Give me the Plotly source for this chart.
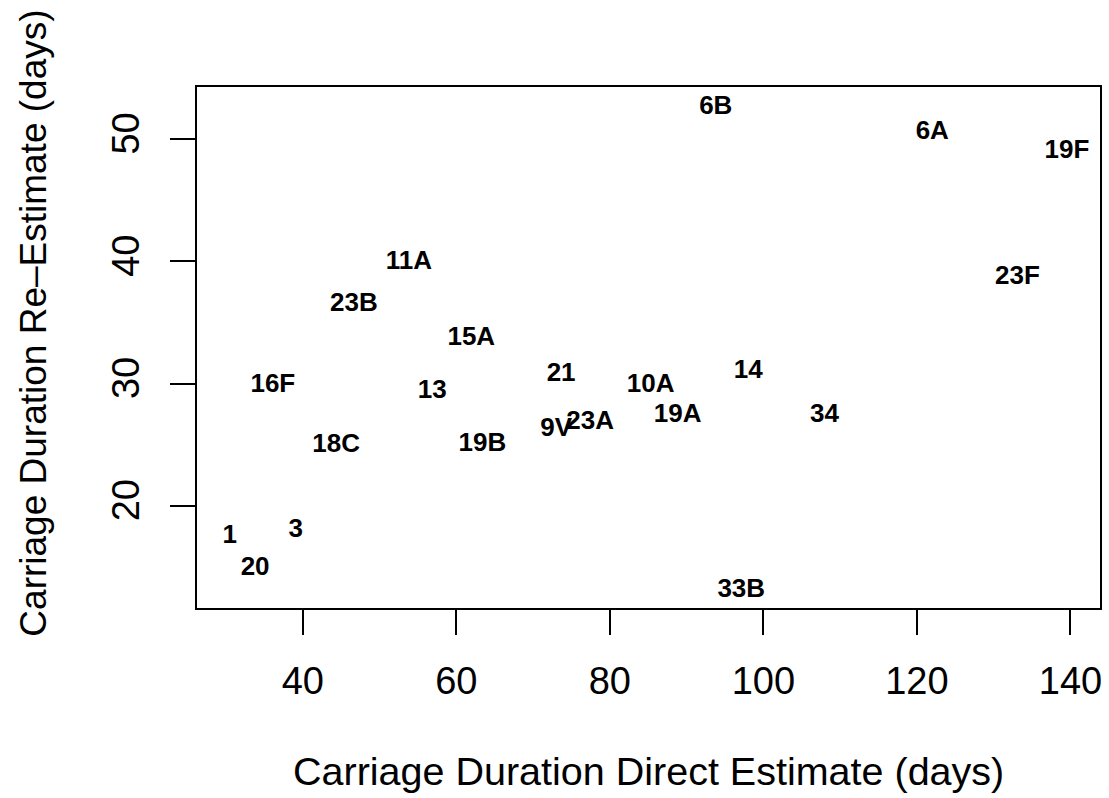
import plotly.graph_objects as go

serotypes = ["1", "20", "3", "16F", "18C", "23B", "11A", "13", "15A", "19B",
             "21", "9V", "23A", "10A", "19A", "14", "34", "6B", "6A", "19F",
             "23F", "33B"]
direct_est = [30.47, 33.79, 39.09, 36.1, 44.34, 46.65, 53.83, 56.86, 61.95, 63.4,
              73.65, 73.0, 77.43, 85.32, 88.83, 98.02, 107.96, 93.8, 122.0, 139.55,
              133.1, 97.12]
re_est = [17.53, 14.91, 18.01, 29.84, 24.91, 36.47, 39.93, 29.39, 33.73, 25.05,
          30.72, 26.28, 26.83, 29.86, 27.39, 30.99, 27.39, 52.58, 50.58, 48.98,
          38.68, 13.1]
x_ticks = [40, 60, 80, 100, 120, 140]
y_ticks = [20, 30, 40, 50]

fig = go.Figure()
fig.add_trace(go.Scatter(
    x=direct_est, y=re_est, text=serotypes, mode="text",
    textposition="middle center",
    textfont=dict(family="Liberation Sans, Arial, sans-serif", size=26, color="black", weight="bold"),
    hoverinfo="skip", showlegend=False,
))

axis_common = dict(
    showline=True, linecolor="black", linewidth=2, mirror=True,
    ticks="outside", ticklen=25, tickwidth=1.5, tickcolor="black",
    showgrid=False, zeroline=False,
    tickfont=dict(family="Liberation Sans, Arial, sans-serif", size=38, color="black"),
)
fig.update_xaxes(range=[26.22, 143.85], tickvals=x_ticks, ticktext=[str(v) for v in x_ticks],
                 ticklabelstandoff=13, **axis_common)
fig.update_yaxes(range=[11.65, 54.26], tickvals=y_ticks, ticktext=[str(v) for v in y_ticks],
                 tickangle=-90, ticklabelstandoff=16, **axis_common)

fig.add_annotation(text="Carriage Duration Direct Estimate (days)", xref="paper", yref="paper",
                   x=0.5, y=-0.312, xanchor="center", yanchor="middle", showarrow=False,
                   font=dict(family="Liberation Sans, Arial, sans-serif", size=39.5, color="black"))
fig.add_annotation(text="Carriage Duration Re\u2013Estimate (days)", xref="paper", yref="paper",
                   x=-0.1815, y=0.546, xanchor="center", yanchor="middle", showarrow=False,
                   textangle=-90,
                   font=dict(family="Liberation Sans, Arial, sans-serif", size=37, color="black"))

fig.update_layout(
    width=1109, height=798,
    margin=dict(l=197, r=7, t=87, b=190),
    paper_bgcolor="white", plot_bgcolor="white",
)
fig.write_html("out.html", config={"displayModeBar": False},
               post_script="document.body.style.margin='0';document.body.style.overflow='hidden';")
